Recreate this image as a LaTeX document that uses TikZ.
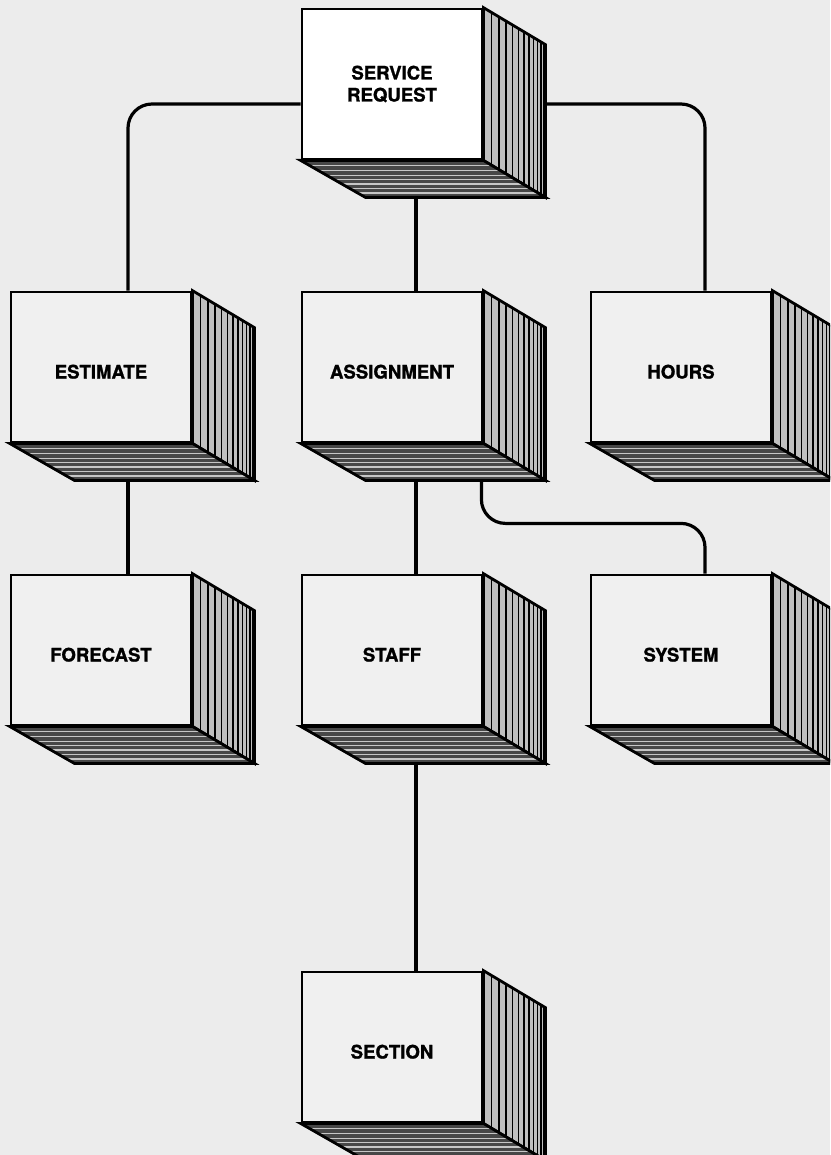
\documentclass[tikz,border=0pt]{standalone}
\usepackage{fontspec}
\setsansfont{TeX Gyre Heros}[BoldFeatures={FakeBold=1.3}]
\usepackage{tikz}
\usetikzlibrary{calc}
\pgfdeclarelayer{back}
\pgfsetlayers{back,main}

\begin{document}
\begin{tikzpicture}[
    x=1pt, y=-1pt,
    font=\sffamily\bfseries\fontsize{18.6}{22}\selectfont,
    blk/.style={draw, line width=2.8pt, fill=gray!12, minimum width=180pt,
                minimum height=150pt, inner sep=0pt, align=center},
    lbl/.style={text height=23pt, text depth=0pt},
    side/.style={fill=gray!50},
    floor/.style={fill=black!72},
    edge/.style={draw, line width=2.8pt, line join=miter},
    link/.style={line width=3.2pt, rounded corners=24pt},
  ]
  \useasboundingbox (0,0) rectangle (830,1155);
  \clip (0,0) rectangle (830,1155);

  \node[blk, fill=white] (sreq) at (392,84) {SERVICE\\REQUEST};
  \node[blk, lbl] (est) at (101,367) {ESTIMATE};
  \node[blk, lbl] (asg) at (392,367) {ASSIGNMENT};
  \node[blk, lbl] (hrs) at (681,367) {HOURS};
  \node[blk, lbl] (fc) at (101,650) {FORECAST};
  \node[blk, lbl] (stf) at (392,650) {STAFF};
  \node[blk, lbl] (sys) at (681,650) {SYSTEM};
  \node[blk, lbl] (sec) at (392,1047) {SECTION};

  \begin{pgfonlayer}{back}
    \fill[gray!15] (0,0) rectangle (830,1155);
    \draw[link] ([yshift=-20pt]sreq.west) -| ([xshift=27pt]est.north);
    \draw[link] ([yshift=-20pt]sreq.east) -| ([xshift=24pt]hrs.north);
    \draw[link] ([xshift=24pt]sreq.south) -- ([xshift=24pt]asg.north);
    \draw[link] ([xshift=27pt]est.south) -- ([xshift=27pt]fc.north);
    \draw[link] ([xshift=24pt]asg.south) -- ([xshift=24pt]stf.north);
    \draw[link] ([xshift=-2pt]asg.south east) -- ++(0,80) -| ([xshift=24pt]sys.north);
    \draw[link] ([xshift=24pt]stf.south) -- ([xshift=24pt]sec.north);
  \end{pgfonlayer}

  \foreach \n in {sreq,est,asg,hrs,fc,stf,sys,sec} {
    \fill[side] (\n.north east) -- ++(62,37) -- ([shift={(62,37)}]\n.south east)
      -- (\n.south east) -- cycle;
    \foreach \d in {8,15.5,22.5,29,35,40.5,45.5,50,54,57.5,60}
      \draw[line width=1.4pt] ([shift={(\d,\d*0.597)}]\n.north east)
        -- ([shift={(\d,\d*0.597)}]\n.south east);
    \draw[edge] (\n.north east) -- ++(62,37) -- ([shift={(62,37)}]\n.south east)
      -- (\n.south east) -- cycle;
    \fill[floor] (\n.south west) -- (\n.south east) -- ++(62,37) -- ++(-180,0) -- cycle;
    \foreach \t in {0.14,0.27,0.4,0.52,0.64,0.76,0.88}
      \draw[gray!45, line width=1.3pt] ([shift={(\t*62,\t*37)}]\n.south west)
        -- ([shift={(\t*62,\t*37)}]\n.south east);
    \draw[edge] (\n.south west) -- (\n.south east) -- ++(62,37) -- ++(-180,0) -- cycle;
  }
\end{tikzpicture}
\end{document}
